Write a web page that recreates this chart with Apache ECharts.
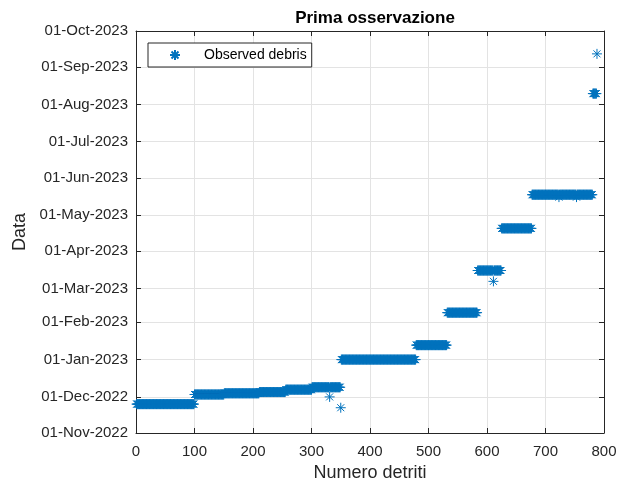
<!DOCTYPE html>
<html>
<head>
<meta charset="utf-8">
<title>Prima osservazione</title>
<script src="https://cdn.jsdelivr.net/npm/echarts@6/dist/echarts.min.js"></script>
<style>
  html, body { margin: 0; padding: 0; background: #ffffff; }
  #chart { width: 619px; height: 484px; }
</style>
</head>
<body>
<div id="chart"></div>
<script>
// Debris numbers grouped in runs that share the same first-observation date
const runFirst = [1, 100, 151, 211, 256, 301, 351, 479, 532, 584, 625, 677, 781];
const runLast  = [99, 150, 210, 255, 300, 349, 478, 531, 583, 624, 676, 780, 787];
const runDate  = ['2022-11-25', '2022-12-03', '2022-12-04', '2022-12-05', '2022-12-07',
                  '2022-12-09', '2023-01-01', '2023-01-13', '2023-02-09', '2023-03-16',
                  '2023-04-20', '2023-05-18', '2023-08-10'];

// Individual debris observed on a different day than their neighbours
const singleIndex = [331, 350, 611, 723, 753, 788];
const singleDate  = ['2022-12-01', '2022-11-22', '2023-03-07', '2023-05-16', '2023-05-16', '2023-09-12'];

// Y axis range (first day of month)
const yStart = '2022-11-01';
const yEnd = '2023-10-01';
const monthNames = ['Jan', 'Feb', 'Mar', 'Apr', 'May', 'Jun', 'Jul', 'Aug', 'Sep', 'Oct', 'Nov', 'Dec'];

function toTime(s) {
  const p = s.split('-').map(Number);
  return new Date(p[0], p[1] - 1, p[2]).getTime();
}
function fmtDate(v) {
  const d = new Date(v);
  const dd = String(d.getDate()).padStart(2, '0');
  return dd + '-' + monthNames[d.getMonth()] + '-' + d.getFullYear();
}

// Expand runs, then apply the individual dates
const dateByIndex = {};
runFirst.forEach((f, k) => {
  for (let i = f; i <= runLast[k]; i++) dateByIndex[i] = runDate[k];
});
singleIndex.forEach((i, k) => { dateByIndex[i] = singleDate[k]; });
const points = Object.keys(dateByIndex).map(Number).sort((a, b) => a - b)
  .map(i => [i, toTime(dateByIndex[i])]);

const blue = '#0072BD';
const ink = '#262626';
const gridColor = '#e3e3e3';
const font = 'Liberation Sans, Arial, Helvetica, sans-serif';
const asterisk = 'path://M5,0L5,10M0,5L10,5M1.5,1.5L8.5,8.5M8.5,1.5L1.5,8.5';
const day = 86400000;

const chart = echarts.init(document.getElementById('chart'), null, { renderer: 'canvas' });

const tickCommon = { show: true, inside: true, length: 5, lineStyle: { color: ink, width: 1 } };
const lineCommon = { show: true, onZero: false, lineStyle: { color: ink, width: 1 } };

chart.setOption({
  animation: false,
  backgroundColor: '#ffffff',
  textStyle: { fontFamily: font },
  title: {
    text: 'Prima osservazione',
    left: 370,
    textAlign: 'center',
    top: 5,
    textStyle: { fontFamily: font, fontWeight: 'bold', fontSize: 17, color: '#000000' }
  },
  legend: {
    left: 148,
    top: 43,
    orient: 'horizontal',
    itemWidth: 48,
    itemHeight: 10,
    itemGap: 0,
    padding: [5, 5, 5, 21],
    borderColor: ink,
    borderWidth: 1,
    borderRadius: 0,
    backgroundColor: '#ffffff',
    textStyle: { fontFamily: font, fontSize: 14, color: '#000000' },
    data: [{ name: 'Observed debris', icon: asterisk }]
  },
  grid: {
    left: 136, right: 15, top: 31, bottom: 51,
    containLabel: false, outerBoundsMode: 'none'
  },
  xAxis: [{
    type: 'value',
    min: 0, max: 800, interval: 100,
    name: 'Numero detriti',
    nameLocation: 'middle',
    nameGap: 27,
    nameTextStyle: { fontFamily: font, fontSize: 18, color: ink },
    axisLine: lineCommon,
    axisTick: tickCommon,
    axisLabel: { fontFamily: font, fontSize: 15, color: ink, margin: 11 },
    splitLine: { show: true, lineStyle: { color: gridColor, width: 1 } }
  }, {
    type: 'value',
    position: 'top',
    min: 0, max: 800, interval: 100,
    axisLine: lineCommon,
    axisTick: tickCommon,
    axisLabel: { show: false },
    splitLine: { show: false }
  }],
  yAxis: [{
    type: 'time',
    min: toTime(yStart), max: toTime(yEnd),
    splitNumber: 11,
    minInterval: 28 * day,
    maxInterval: 31 * day,
    name: 'Data',
    nameLocation: 'middle',
    nameGap: 99,
    nameRotate: 90,
    nameTextStyle: { fontFamily: font, fontSize: 18, color: ink },
    axisLine: lineCommon,
    axisTick: tickCommon,
    axisLabel: {
      fontFamily: font, fontSize: 15, color: ink, margin: 8,
      showMinLabel: true, showMaxLabel: true,
      formatter: fmtDate
    },
    splitLine: { show: true, lineStyle: { color: gridColor, width: 1 } },
    minorTick: { show: false }
  }, {
    type: 'time',
    position: 'right',
    min: toTime(yStart), max: toTime(yEnd),
    splitNumber: 11,
    minInterval: 28 * day,
    maxInterval: 31 * day,
    axisLine: lineCommon,
    axisTick: tickCommon,
    axisLabel: { show: false },
    splitLine: { show: false }
  }],
  series: [{
    name: 'Observed debris',
    type: 'scatter',
    xAxisIndex: 0,
    yAxisIndex: 0,
    symbol: asterisk,
    symbolSize: 10,
    large: false,
    itemStyle: { color: blue, borderColor: blue, borderWidth: 1, opacity: 1 },
    emphasis: { disabled: true },
    data: points
  }]
});
</script>
</body>
</html>
